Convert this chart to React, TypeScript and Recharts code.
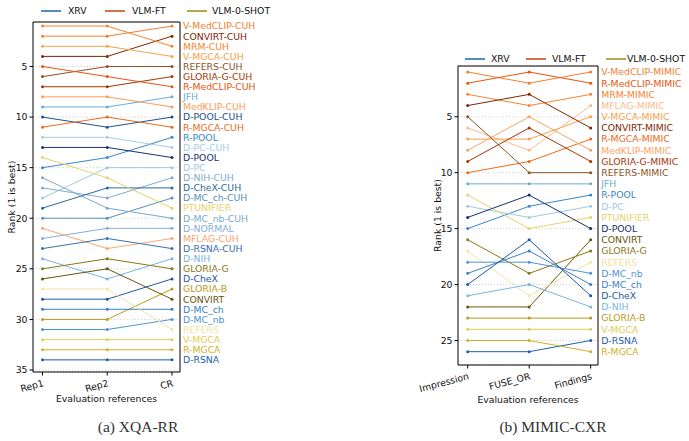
import React from 'react';
import { LineChart, Line, XAxis, YAxis, CartesianGrid, ReferenceArea } from 'recharts';

// ---------- Data: XQA-RR ----------
const xqaCategories = ['Rep1', 'Rep2', 'CR'];
const xqaNames = [
  'V-MedCLIP-CUH', 'CONVIRT-CUH', 'MRM-CUH', 'V-MGCA-CUH', 'REFERS-CUH', 'GLORIA-G-CUH',
  'R-MedCLIP-CUH', 'JFH', 'MedKLIP-CUH', 'D-POOL-CUH', 'R-MGCA-CUH', 'R-POOL', 'D-PC-CUH',
  'D-POOL', 'D-PC', 'D-NIH-CUH', 'D-CheX-CUH', 'D-MC_ch-CUH', 'PTUNIFIER', 'D-MC_nb-CUH',
  'D-NORMAL', 'MFLAG-CUH', 'D-RSNA-CUH', 'D-NIH', 'GLORIA-G', 'D-CheX', 'GLORIA-B', 'CONVIRT',
  'D-MC_ch', 'D-MC_nb', 'REFERS', 'V-MGCA', 'R-MGCA', 'D-RSNA',
];
const xqaRep1 = [2, 4, 1, 3, 6, 7, 5, 9, 8, 10, 11, 15, 12, 13, 18, 17, 19, 20, 14, 16, 22, 21, 23, 24, 25, 28, 30, 26, 29, 31, 27, 32, 33, 34];
const xqaRep2 = [2, 4, 1, 3, 5, 7, 6, 9, 8, 11, 10, 14, 12, 13, 15, 18, 17, 20, 16, 19, 21, 23, 22, 26, 24, 28, 30, 25, 29, 31, 27, 32, 33, 34];
const xqaCR = [1, 2, 3, 4, 5, 6, 7, 8, 9, 10, 11, 12, 13, 14, 15, 16, 17, 18, 19, 20, 21, 22, 23, 24, 25, 26, 27, 28, 29, 30, 31, 32, 33, 34];
const xqaYTicks = [5, 10, 15, 20, 25, 30, 35];

// ---------- Data: MIMIC-CXR ----------
const mimicCategories = ['Impression', 'FUSE_OR', 'Findings'];
const mimicNames = [
  'V-MedCLIP-MIMIC', 'R-MedCLIP-MIMIC', 'MRM-MIMIC', 'MFLAG-MIMIC', 'V-MGCA-MIMIC', 'CONVIRT-MIMIC',
  'R-MGCA-MIMIC', 'MedKLIP-MIMIC', 'GLORIA-G-MIMIC', 'REFERS-MIMIC', 'JFH', 'R-POOL', 'D-PC',
  'PTUNIFIER', 'D-POOL', 'CONVIRT', 'GLORIA-G', 'REFERS', 'D-MC_nb', 'D-MC_ch', 'D-CheX', 'D-NIH',
  'GLORIA-B', 'V-MGCA', 'D-RSNA', 'R-MGCA',
];
const mimicImpression = [1, 2, 3, 6, 7, 4, 10, 8, 9, 5, 11, 15, 13, 12, 14, 22, 16, 17, 18, 19, 20, 21, 23, 24, 26, 25];
const mimicFuseOr = [2, 1, 4, 8, 7, 3, 9, 5, 6, 10, 11, 13, 14, 15, 12, 22, 19, 21, 18, 17, 16, 20, 23, 24, 26, 25];
const mimicFindings = [1, 2, 3, 4, 5, 6, 7, 8, 9, 10, 11, 12, 13, 14, 15, 16, 17, 18, 19, 20, 21, 22, 23, 24, 25, 26];
const mimicYTicks = [5, 10, 15, 20, 25];

// ---------- Legend ----------
const legendNames = ['XRV', 'VLM-FT', 'VLM-0-SHOT'];

// ---------- Styles ----------
const groupColors: Record<string, string> = {
  XRV: '#1f63b0',
  'VLM-FT': '#c8420c',
  'VLM-0-SHOT': '#9c8a0c',
};

const lineColors: Record<string, string> = {
  'V-MedCLIP-CUH': '#f3802f',
  'CONVIRT-CUH': '#7f2704',
  'MRM-CUH': '#f5862f',
  'V-MGCA-CUH': '#f9a04a',
  'REFERS-CUH': '#8c5425',
  'GLORIA-G-CUH': '#a63603',
  'R-MedCLIP-CUH': '#e6550d',
  JFH: '#6baed6',
  'MedKLIP-CUH': '#fd9c55',
  'D-POOL-CUH': '#24508a',
  'R-MGCA-CUH': '#ec6a1c',
  'R-POOL': '#3a87c8',
  'D-PC-CUH': '#a6cee3',
  'D-POOL': '#16326e',
  'D-PC': '#9ecae1',
  'D-NIH-CUH': '#7fadd0',
  'D-CheX-CUH': '#2b6a9c',
  'D-MC_ch-CUH': '#5590c0',
  PTUNIFIER: '#e7d36a',
  'D-MC_nb-CUH': '#78a9cd',
  'D-NORMAL': '#86aee0',
  'MFLAG-CUH': '#fda46c',
  'D-RSNA-CUH': '#3b6fb0',
  'D-NIH': '#78b6e2',
  'GLORIA-G': '#8a7716',
  'D-CheX': '#1c58a8',
  'GLORIA-B': '#b89c1c',
  CONVIRT: '#66570e',
  'D-MC_ch': '#3b80c6',
  'D-MC_nb': '#4f93d0',
  REFERS: '#f2e3a2',
  'V-MGCA': '#e2cc52',
  'R-MGCA': '#d1b02a',
  'D-RSNA': '#1f5db0',
  'V-MedCLIP-MIMIC': '#f3802f',
  'R-MedCLIP-MIMIC': '#e6550d',
  'MRM-MIMIC': '#f5862f',
  'MFLAG-MIMIC': '#fdbb8c',
  'V-MGCA-MIMIC': '#f9a04a',
  'CONVIRT-MIMIC': '#7f2704',
  'R-MGCA-MIMIC': '#ec6a1c',
  'MedKLIP-MIMIC': '#fda460',
  'GLORIA-G-MIMIC': '#a63603',
  'REFERS-MIMIC': '#8c5425',
};

const FONT = 'DejaVu Sans';
const FS = 9.3;

type PanelProps = {
  left: number;
  width: number;
  height: number;
  categories: string[];
  names: string[];
  columns: number[][];
  yTicks: number[];
  yDomain: [number, number];
  xDomain: [number, number];
  marginTop: number;
  marginRight: number;
  yAxisWidth: number;
  xAxisHeight: number;
  yLabelX: number;
  xLabelY: number;
  labelGap: number;
};

function RankPanel(p: PanelProps) {
  const data = p.categories.map((c, i) => {
    const row: Record<string, number | string> = { x: i, cat: c };
    p.names.forEach((n, k) => {
      row[n] = p.columns[i][k];
    });
    return row;
  });
  const last = p.categories.length - 1;

  const endLabel = (name: string, color: string) => (props: any) => {
    const { x, y, index } = props;
    if (index !== last) return null;
    return (
      <text key={name} x={Number(x) + p.labelGap} y={Number(y)} dy="0.36em" fill={color} fontSize={FS} fontFamily={FONT}>
        {name}
      </text>
    );
  };

  const xTick = (props: any) => {
    const { x, y, payload } = props;
    return (
      <g transform={`translate(${x},${y + 2})`}>
        <text textAnchor="end" transform="rotate(-15)" dy="0.72em" fontSize={FS} fontFamily={FONT} fill="#111">
          {p.categories[payload.value]}
        </text>
      </g>
    );
  };

  return (
    <div style={{ position: 'absolute', left: p.left, top: 0 }}>
      <LineChart
        width={p.width}
        height={p.height}
        data={data}
        margin={{ top: p.marginTop, right: p.marginRight, bottom: 0, left: 0 }}
      >
        <CartesianGrid vertical={false} stroke="#cfcfcf" strokeDasharray="1 2" />
        <XAxis
          dataKey="x"
          type="number"
          domain={p.xDomain}
          ticks={p.categories.map((_, i) => i)}
          height={p.xAxisHeight}
          tickSize={3.5}
          tickMargin={2}
          axisLine={false}
          tickLine={{ stroke: '#000' }}
          tick={xTick}
          interval={0}
          label={{
            content: (lp: any) => {
              const vb = lp.viewBox || {};
              return (
                <text
                  x={vb.x + vb.width / 2}
                  y={p.xLabelY}
                  textAnchor="middle"
                  dominantBaseline="central"
                  fontSize={FS}
                  fontFamily={FONT}
                  fill="#111"
                >
                  Evaluation references
                </text>
              );
            },
          }}
        />
        <YAxis
          type="number"
          reversed
          domain={p.yDomain}
          ticks={p.yTicks}
          width={p.yAxisWidth}
          tickSize={3.5}
          tickMargin={2}
          axisLine={false}
          tickLine={{ stroke: '#000' }}
          tick={{ fontSize: FS, fontFamily: FONT, fill: '#111' }}
          interval={0}
          label={{
            content: (lp: any) => {
              const vb = lp.viewBox || {};
              const cy = vb.y + vb.height / 2;
              return (
                <text
                  transform={`translate(${p.yLabelX},${cy}) rotate(-90)`}
                  textAnchor="middle"
                  dominantBaseline="central"
                  fontSize={FS}
                  fontFamily={FONT}
                  fill="#111"
                >
                  Rank (1 is best)
                </text>
              );
            },
          }}
        />
        {p.names.map((n) => {
          const c = lineColors[n] || '#888';
          return (
            <Line
              key={n}
              dataKey={n}
              type="linear"
              stroke={c}
              strokeWidth={1}
              dot={{ r: 1.5, fill: c, stroke: c, strokeWidth: 0 }}
              activeDot={false}
              isAnimationActive={false}
              label={endLabel(n, c)}
            />
          );
        })}
        <ReferenceArea
          x1={p.xDomain[0]}
          x2={p.xDomain[1]}
          y1={p.yDomain[0]}
          y2={p.yDomain[1]}
          fill="none"
          fillOpacity={0}
          stroke="#000"
          strokeWidth={1}
          ifOverflow="visible"
        />
      </LineChart>
    </div>
  );
}

function LegendRow({ left, top, lineStarts, textStarts }: { left: number; top: number; lineStarts: number[]; textStarts: number[] }) {
  return (
    <svg style={{ position: 'absolute', left, top, overflow: 'visible' }} width={1} height={1}>
      {legendNames.map((n, i) => (
        <g key={n}>
          <line x1={lineStarts[i]} x2={lineStarts[i] + 20} y1={0} y2={0} stroke={groupColors[n]} strokeWidth={1.5} />
          <text x={textStarts[i]} y={0} dy="0.36em" fontSize={FS} fontFamily={FONT} fill="#111">
            {n}
          </text>
        </g>
      ))}
    </svg>
  );
}

const captionStyle: React.CSSProperties = {
  position: 'absolute',
  fontFamily: '"Liberation Serif", serif',
  fontSize: 15.5,
  color: '#333',
  whiteSpace: 'nowrap',
  transform: 'translateX(-50%)',
  lineHeight: '16px',
};

export default function App() {
  return (
    <div style={{ position: 'absolute', left: 0, top: 0, width: 689, height: 441, background: '#fff', overflow: 'hidden' }}>
      <RankPanel
        left={0}
        width={300}
        height={441}
        categories={xqaCategories}
        names={xqaNames}
        columns={[xqaRep1, xqaRep2, xqaCR]}
        yTicks={xqaYTicks}
        yDomain={[0.6, 35.2]}
        xDomain={[-0.147, 2.124]}
        marginTop={22}
        marginRight={120}
        yAxisWidth={33}
        xAxisHeight={69}
        yLabelX={11}
        xLabelY={398}
        labelGap={11}
      />
      <RankPanel
        left={400}
        width={289}
        height={441}
        categories={mimicCategories}
        names={mimicNames}
        columns={[mimicImpression, mimicFuseOr, mimicFindings]}
        yTicks={mimicYTicks}
        yDomain={[0.464, 27.19]}
        xDomain={[-0.158, 2.119]}
        marginTop={66}
        marginRight={91}
        yAxisWidth={58}
        xAxisHeight={76}
        yLabelX={37.5}
        xLabelY={399}
        labelGap={10.5}
      />
      <LegendRow left={0} top={11} lineStarts={[41, 105, 187]} textStarts={[68, 132, 212]} />
      <LegendRow left={0} top={59} lineStarts={[465, 526, 606]} textStarts={[491, 552, 627]} />
      <div style={{ ...captionStyle, left: 138, top: 419 }}>(a) XQA-RR</div>
      <div style={{ ...captionStyle, left: 553, top: 419 }}>(b) MIMIC-CXR</div>
    </div>
  );
}
